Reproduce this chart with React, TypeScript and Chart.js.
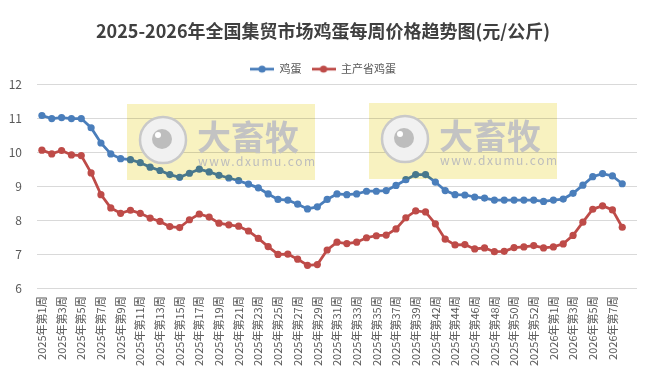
import React, { useEffect, useRef } from "react";
import { Chart, registerables } from "chart.js";

Chart.register(...registerables);

const chartTitle = "2025-2026年全国集贸市场鸡蛋每周价格趋势图(元/公斤)";
const seriesNames = ["鸡蛋", "主产省鸡蛋"];
const seriesColors = ["#4A7EBB", "#BE4B48"];

const categories = [
  "2025年第1周", "2025年第2周", "2025年第3周", "2025年第4周", "2025年第5周",
  "2025年第6周", "2025年第7周", "2025年第8周", "2025年第9周", "2025年第10周",
  "2025年第11周", "2025年第12周", "2025年第13周", "2025年第14周", "2025年第15周",
  "2025年第16周", "2025年第17周", "2025年第18周", "2025年第19周", "2025年第20周",
  "2025年第21周", "2025年第22周", "2025年第23周", "2025年第24周", "2025年第25周",
  "2025年第26周", "2025年第27周", "2025年第28周", "2025年第29周", "2025年第30周",
  "2025年第31周", "2025年第32周", "2025年第33周", "2025年第34周", "2025年第35周",
  "2025年第36周", "2025年第37周", "2025年第38周", "2025年第39周", "2025年第41周",
  "2025年第42周", "2025年第43周", "2025年第44周", "2025年第45周", "2025年第46周",
  "2025年第47周", "2025年第48周", "2025年第49周", "2025年第50周", "2025年第51周",
  "2025年第52周", "2025年第53周", "2026年第1周", "2026年第2周", "2026年第3周",
  "2026年第4周", "2026年第5周", "2026年第6周", "2026年第7周", "2026年第8周",
  "",
];

const eggPrice = [
  11.09, 11.0, 11.03, 11.0, 11.0, 10.73, 10.28, 9.96, 9.82, 9.79,
  9.7, 9.57, 9.47, 9.35, 9.27, 9.39, 9.51, 9.43, 9.33, 9.25,
  9.17, 9.07, 8.96, 8.78, 8.62, 8.6, 8.48, 8.34, 8.4, 8.62,
  8.78, 8.76, 8.78, 8.86, 8.86, 8.88, 9.03, 9.2, 9.35, 9.35,
  9.13, 8.88, 8.76, 8.75, 8.69, 8.66, 8.6, 8.6, 8.6, 8.6,
  8.6, 8.56, 8.6, 8.63, 8.8, 9.04, 9.29, 9.38, 9.31, 9.08,
];

const mainProvinceEggPrice = [
  10.07, 9.96, 10.06, 9.93, 9.91, 9.4, 8.76, 8.37, 8.21, 8.3,
  8.21, 8.07, 7.97, 7.82, 7.79, 8.02, 8.19, 8.1, 7.92, 7.87,
  7.83, 7.69, 7.47, 7.23, 7.0, 7.01, 6.86, 6.68, 6.7, 7.13,
  7.36, 7.32, 7.36, 7.49, 7.55, 7.57, 7.75, 8.08, 8.28, 8.25,
  7.9, 7.45, 7.28, 7.29, 7.16, 7.19, 7.08, 7.09, 7.2, 7.22,
  7.26, 7.19, 7.22, 7.31, 7.56, 7.95, 8.33, 8.43, 8.31, 7.8,
];

const yMin = 6;
const yMax = 12;
const yStep = 1;

const watermarkName = "大畜牧";
const watermarkSite = "www.dxumu.com";

const FONT = '"Noto Sans CJK SC", "Noto Sans", sans-serif';
const TEXT_COLOR = "#595959";
const TITLE_COLOR = "#404040";

function makeLegendIcon(color: string) {
  const c = document.createElement("canvas");
  c.width = 24;
  c.height = 10;
  const ctx = c.getContext("2d")!;
  ctx.strokeStyle = color;
  ctx.lineWidth = 2.75;
  ctx.beginPath();
  ctx.moveTo(0, 5);
  ctx.lineTo(24, 5);
  ctx.stroke();
  ctx.fillStyle = color;
  ctx.beginPath();
  ctx.arc(12, 5, 3.6, 0, Math.PI * 2);
  ctx.fill();
  return c;
}

function drawWatermark(ctx: CanvasRenderingContext2D, x: number, y: number, w: number, h: number) {
  ctx.save();
  ctx.globalCompositeOperation = "multiply";
  ctx.fillStyle = "rgb(248,242,192)";
  ctx.fillRect(x, y, w, h);
  ctx.restore();

  ctx.save();
  const cx = x + 36;
  const cy = y + 36;
  ctx.beginPath();
  ctx.arc(cx, cy, 23, 0, Math.PI * 2);
  ctx.fillStyle = "#f1f1f1";
  ctx.fill();
  ctx.lineWidth = 2.5;
  ctx.strokeStyle = "#c9c9c9";
  ctx.stroke();
  ctx.beginPath();
  ctx.arc(cx - 1, cy - 1, 10, 0, Math.PI * 2);
  ctx.fillStyle = "#bdbdbd";
  ctx.fill();
  ctx.beginPath();
  ctx.arc(cx - 5, cy - 5, 3, 0, Math.PI * 2);
  ctx.fillStyle = "#ffffff";
  ctx.fill();

  ctx.fillStyle = "#c3c3c3";
  ctx.font = `bold 34px ${FONT}`;
  ctx.textBaseline = "middle";
  ctx.textAlign = "left";
  ctx.fillText(watermarkName, x + 70, y + 33);
  ctx.font = `12px ${FONT}`;
  (ctx as any).letterSpacing = "1.6px";
  ctx.fillStyle = "#bdbdbd";
  ctx.fillText(watermarkSite, x + 71, y + 57);
  ctx.restore();
}

const watermarkPlugin = {
  id: "watermarks",
  afterDatasetsDraw(chart: any) {
    const ctx = chart.ctx as CanvasRenderingContext2D;
    drawWatermark(ctx, 127, 104, 188, 76);
    drawWatermark(ctx, 369, 103, 188, 76);
  },
};

export default function App() {
  const canvasRef = useRef<HTMLCanvasElement | null>(null);

  useEffect(() => {
    document.body.style.margin = "0";
    const canvas = canvasRef.current;
    if (!canvas) return;
    Chart.defaults.font.family = FONT;

    const seriesData = [eggPrice, mainProvinceEggPrice];
    const chart = new Chart(canvas, {
      type: "line",
      data: {
        labels: categories,
        datasets: seriesNames.map((name, i) => ({
          label: name,
          data: seriesData[i],
          borderColor: seriesColors[i],
          backgroundColor: seriesColors[i],
          pointBackgroundColor: seriesColors[i],
          pointBorderColor: seriesColors[i],
          borderWidth: 2.75,
          pointRadius: 3.6,
          pointBorderWidth: 0,
          tension: 0,
        })),
      },
      options: {
        responsive: false,
        animation: false,
        layout: { padding: { left: 9, right: 8, bottom: 3, top: 0 } },
        plugins: {
          title: {
            display: true,
            text: chartTitle,
            color: TITLE_COLOR,
            font: { size: 18, weight: "bold", family: FONT },
            padding: { top: 20, bottom: 12 },
          },
          legend: {
            display: true,
            position: "top",
            labels: {
              usePointStyle: true,
              pointStyleWidth: 24,
              color: TEXT_COLOR,
              font: { size: 11, family: FONT },
              padding: 10,
              generateLabels: (ch: any) => {
                const items = (Chart.defaults.plugins.legend.labels as any).generateLabels(ch);
                return items.map((it: any, i: number) => ({
                  ...it,
                  pointStyle: makeLegendIcon(seriesColors[i]),
                }));
              },
            },
          },
          tooltip: { enabled: false },
        },
        scales: {
          x: {
            type: "category",
            offset: true,
            grid: { display: false, drawTicks: false },
            border: { display: false },
            afterFit: (s: any) => {
              s.paddingLeft = 0;
              s.paddingRight = 0;
            },
            ticks: {
              autoSkip: false,
              maxRotation: 90,
              minRotation: 90,
              padding: 8,
              color: TEXT_COLOR,
              font: { size: 11, family: FONT },
              callback: (_v: any, idx: number) => (idx % 2 === 0 ? categories[idx] : ""),
            },
          },
          y: {
            min: yMin,
            max: yMax,
            grid: { color: "#d9d9d9", lineWidth: 1, drawTicks: false },
            border: { display: false },
            afterFit: (s: any) => {
              s.width = 28;
            },
            ticks: {
              stepSize: yStep,
              padding: 15,
              color: TEXT_COLOR,
              font: { size: 12, family: FONT },
            },
          },
        },
      },
      plugins: [watermarkPlugin],
    } as any);

    return () => chart.destroy();
  }, []);

  return (
    <div style={{ width: 645, height: 377, background: "#fff" }}>
      <canvas ref={canvasRef} width={645} height={377} />
    </div>
  );
}
